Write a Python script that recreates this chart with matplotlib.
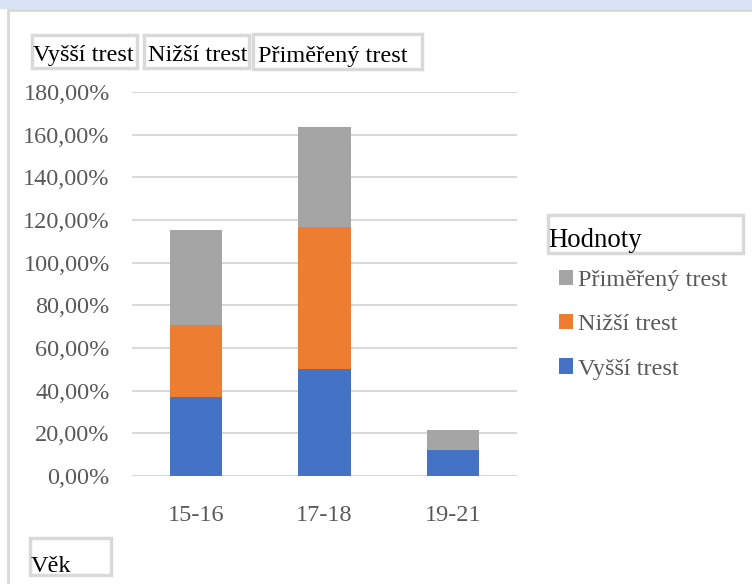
import numpy as np
import matplotlib.pyplot as plt
from matplotlib.patches import Rectangle
from matplotlib.ticker import FuncFormatter

# data (in %)
vek = ['15-16', '17-18', '19-21']
vyssi = [37.0, 50.0, 12.3]
nizsi = [33.8, 66.9, 0.0]
primereny = [44.5, 46.9, 9.3]

c_vyssi = '#4472c4'
c_nizsi = '#ed7d31'
c_prim = '#a5a5a5'
gray_txt = '#595959'
frame = '#d9d9d9'
fs = 17.5

plt.rcParams['font.family'] = ['Liberation Serif', 'DejaVu Serif']

W, H = 752, 584
fig = plt.figure(figsize=(W / 100, H / 100), dpi=100)

def px(x0, y0, x1, y1):
    # pixel box (top-left origin) -> figure fraction
    return [x0 / W, 1 - y1 / H, (x1 - x0) / W, (y1 - y0) / H]

# background bits: blue band on top and outer frame
fig.patches.append(Rectangle((0, 1 - 8 / H), 1, 8 / H, transform=fig.transFigure,
                             color='#dae3f3', zorder=0))
fig.patches.append(Rectangle((8 / W, -0.01), 1, 1 - 10 / H + 0.01, transform=fig.transFigure,
                             facecolor='white', edgecolor=frame, lw=2, zorder=0))

ax = fig.add_axes(px(132, 92, 517, 476))
ax.set_zorder(2)
ax.patch.set_alpha(0)
x = np.arange(len(vek))
w = 0.41
ax.bar(x, vyssi, w, color=c_vyssi, label='Vyšší trest', zorder=3)
ax.bar(x, nizsi, w, bottom=vyssi, color=c_nizsi, label='Nižší trest', zorder=3)
bot = np.array(vyssi) + np.array(nizsi)
ax.bar(x, primereny, w, bottom=bot, color=c_prim, label='Přiměřený trest', zorder=3)

ax.set_xlim(-0.5, 2.5)
ax.set_ylim(0, 180)
ax.set_yticks(np.arange(0, 181, 20))
ax.yaxis.set_major_formatter(FuncFormatter(lambda v, p: f'{v:.2f}'.replace('.', ',') + '%'))
ax.set_xticks(x, vek)
ax.grid(axis='y', color=frame, lw=1.5, zorder=0)
for s in ax.spines.values():
    s.set_visible(False)
ax.tick_params(length=0, labelsize=fs, colors=gray_txt, pad=16)
ax.tick_params(axis='x', pad=21)
for t in ax.get_yticklabels():
    t.set_va('center_baseline')

# field buttons
def button(x0, y0, x1, y1, text, dx=3, dy=7, size=fs):
    fig.patches.append(Rectangle((x0 / W, 1 - y1 / H), (x1 - x0) / W, (y1 - y0) / H,
                                 transform=fig.transFigure, facecolor='white',
                                 edgecolor=frame, lw=2.5, zorder=1))
    fig.text((x0 + dx) / W, 1 - (y1 - dy) / H, text, fontsize=size, color='black',
             va='baseline', ha='left', zorder=3)

button(32, 35, 137, 68, 'Vyšší trest', dx=1)
button(144, 35, 249, 68, 'Nižší trest', dx=4)
button(253, 34, 422, 69, 'Přiměřený trest', dx=5)
button(30, 538, 111, 575, 'Věk', dx=1, dy=3)
button(548, 215, 743, 253, 'Hodnoty', dx=0, dy=6, size=19.3)

# legend
handles, labels = ax.get_legend_handles_labels()
fig.legend(handles[::-1], labels[::-1], loc='upper left', bbox_to_anchor=(559 / W, 1 - 270 / H),
           frameon=False, fontsize=fs, labelcolor=gray_txt, handlelength=0.58,
           handleheight=0.58, handletextpad=0.2, labelspacing=0.95,
           borderpad=0, borderaxespad=0)

fig.savefig('out.png', dpi=100)
